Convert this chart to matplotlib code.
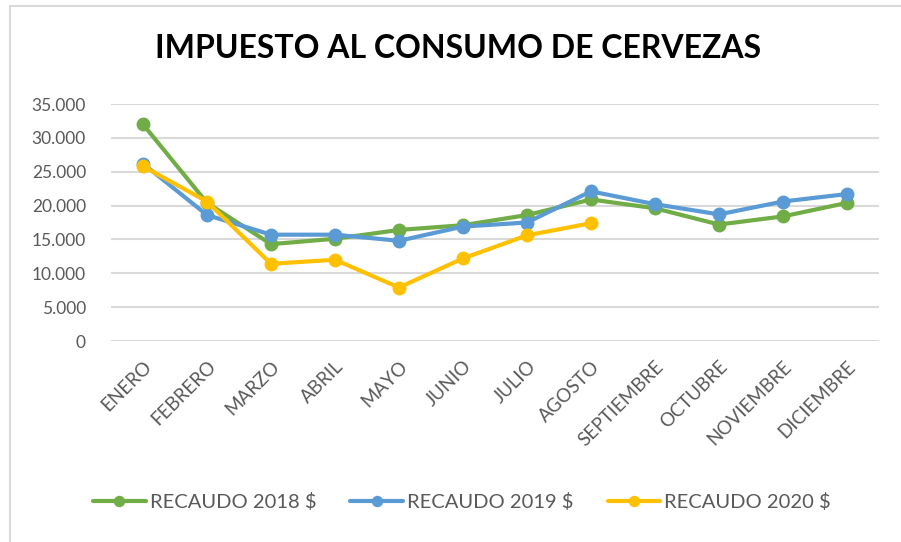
import matplotlib.pyplot as plt
from matplotlib.patches import Rectangle
from matplotlib.ticker import FuncFormatter

meses = ["ENERO", "FEBRERO", "MARZO", "ABRIL", "MAYO", "JUNIO", "JULIO",
         "AGOSTO", "SEPTIEMBRE", "OCTUBRE", "NOVIEMBRE", "DICIEMBRE"]
recaudo_2018 = [32000, 20400, 14300, 15100, 16400, 17100, 18600,
                20900, 19600, 17200, 18400, 20400]
recaudo_2019 = [26200, 18600, 15700, 15700, 14800, 16900, 17500,
                22100, 20200, 18700, 20600, 21700]
recaudo_2020 = [25800, 20600, 11400, 12000, 7900, 12200, 15600, 17400]
series = ["RECAUDO 2018 $", "RECAUDO 2019 $", "RECAUDO 2020 $"]
colores = ["#70AD47", "#5B9BD5", "#FFC000"]

plt.rcParams['font.family'] = ['Lato', 'DejaVu Sans']

fig = plt.figure(figsize=(9.01, 5.42), dpi=100)
W, H = 901, 542
ax = fig.add_axes([111 / W, (H - 341) / H, 768 / W, 237 / H])

# borde del area del grafico
fig.patches.append(Rectangle((10 / W, -0.1), 1.2, (H - 6) / H + 0.1,
                             transform=fig.transFigure, fill=False,
                             edgecolor="#d9d9d9", linewidth=1.5))

x = list(range(len(meses)))
for datos, nombre, color in zip([recaudo_2018, recaudo_2019, recaudo_2020], series, colores):
    ax.plot(x[:len(datos)], datos, color=color, linewidth=3, marker="o",
            markersize=9, label=nombre, solid_capstyle="round")

ax.set_xlim(-0.5, 11.5)
ax.set_ylim(0, 35000)
ax.set_yticks(range(0, 35001, 5000))
ax.yaxis.set_major_formatter(FuncFormatter(lambda v, p: f"{int(v):,}".replace(",", ".")))
ax.set_xticks(x)
ax.set_xticklabels(meses, rotation=45, ha="right", rotation_mode="anchor")
ax.tick_params(axis="y", length=0, labelsize=12.5, labelcolor="#595959", pad=18)
ax.tick_params(axis="x", length=0, labelsize=13.5, labelcolor="#595959", pad=12)
ax.grid(axis="y", color="#d9d9d9", linewidth=1.5)
ax.set_axisbelow(True)
for s in ax.spines.values():
    s.set_visible(False)

fig.text(458 / W, 1 - 49 / H, "IMPUESTO AL CONSUMO DE CERVEZAS", ha="center", va="center",
         fontsize=23, fontweight="bold", color="black")

fig.legend(loc="center", bbox_to_anchor=(462 / W, 1 - 502 / H), ncol=3, frameon=False,
           fontsize=14.5, labelcolor="#595959", handlelength=2.6, handletextpad=0.2,
           columnspacing=1.7, markerscale=0.8)

fig.savefig("out.png", dpi=100)
